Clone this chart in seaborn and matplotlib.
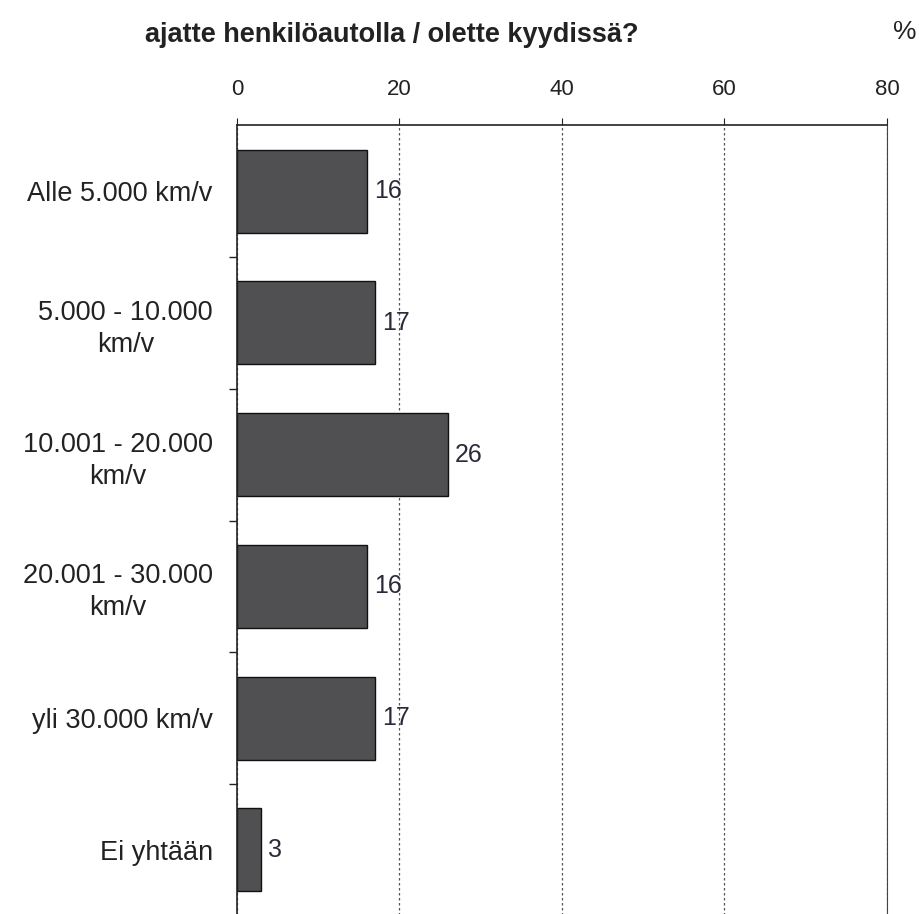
import matplotlib
matplotlib.use('Agg')
import matplotlib.pyplot as plt
import seaborn as sns
import pandas as pd

# ============================================================
# DATA
# ============================================================

categories = [
    'Alle 5.000 km/v',
    '5.000 - 10.000\nkm/v',
    '10.001 - 20.000\nkm/v',
    '20.001 - 30.000\nkm/v',
    'yli 30.000 km/v',
    'Ei yhtään',
]
values = [16, 17, 26, 16, 17, 3]
x_ticks = [0, 20, 40, 60, 80]

title = 'ajatte henkilöautolla / olette kyydissä?'

df = pd.DataFrame({'cat': categories, 'pct': values})

# ============================================================
# STYLE
# ============================================================

sns.set_style('white')
plt.rcParams['font.family'] = ['Liberation Sans', 'DejaVu Sans']

fig = plt.figure(figsize=(9.2, 9.14), dpi=100)
ax = fig.add_axes([0.2576, -0.002, 0.7065, 0.865])

sns.barplot(
    data=df,
    y='cat',
    x='pct',
    orient='h',
    color='#505052',
    edgecolor='#111111',
    linewidth=1.0,
    width=0.63,
    saturation=1,
    ax=ax,
)

ax.set_xlim(0, 80)
ax.set_xticks(x_ticks)
ax.xaxis.tick_top()
ax.tick_params(axis='x', top=True, direction='out', length=5,
               labelsize=16, pad=13, colors='#222222')
ax.set_xlabel('')
ax.set_ylabel('')

# vertical dashed gridlines
ax.xaxis.grid(True, linestyle=(0, (2, 2)), color='#555555', linewidth=0.9)
ax.set_axisbelow(True)

# category separators as small ticks on the left
ax.set_yticks([i + 0.5 for i in range(len(categories) - 1)], minor=True)
ax.tick_params(axis='y', which='minor', left=True, length=6, width=1, color='#222222')
ax.tick_params(axis='y', which='major', left=False, labelsize=19.5, pad=14,
               colors='#222222')
for lbl in ax.get_yticklabels():
    lbl.set_multialignment('center')
    lbl.set_linespacing(1.3)

for side in ['top', 'left']:
    ax.spines[side].set_color('#222222')
    ax.spines[side].set_linewidth(1.2)
ax.spines['right'].set_linestyle((0, (1, 1)))
ax.spines['right'].set_color('#444444')
ax.spines['bottom'].set_visible(False)

# value labels
ax.bar_label(ax.containers[0], labels=[str(v) for v in values],
             padding=5, fontsize=18, color='#2a2a3a')

# title and unit
fig.text(0.426, 0.962, title, ha='center', va='center',
         fontsize=19.5, fontweight='bold', color='#222222')
fig.text(0.983, 0.965, '%', ha='center', va='center',
         fontsize=19, color='#222222')

fig.savefig('out.png', dpi=100)
